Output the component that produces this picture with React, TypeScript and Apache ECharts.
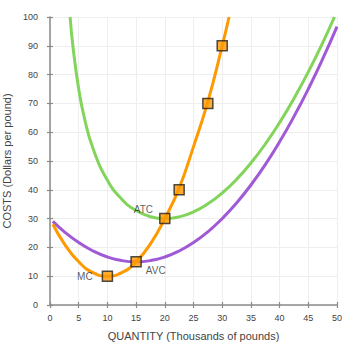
import React, { useEffect, useRef } from "react";
import * as echarts from "echarts";

// Cost curves (quantity in thousands of pounds, cost in dollars per pound)
const mcCurve: [number, number][] = [
  [0.5, 28.05], [2.5, 21.25], [5, 15], [7.5, 11.25], [10, 10], [12.5, 11.25],
  [15, 15], [17.5, 21.25], [20, 30], [22.5, 40.6], [25, 55], [27.5, 70.6],
  [30, 90], [31.2, 100],
];
const avcCurve: [number, number][] = [
  [0.5, 29.02], [2.5, 25.42], [5, 21.67], [7.5, 18.75], [10, 16.67], [12.5, 15.42],
  [15, 15], [17.5, 15.42], [20, 16.67], [22.5, 18.75], [25, 21.67], [27.5, 25.42],
  [30, 30], [32.5, 35.42], [35, 41.67], [37.5, 48.75], [40, 56.67], [42.5, 65.42],
  [45, 75], [47.5, 85.42], [50, 96.67],
];
const atcCurve: [number, number][] = [
  [3.5, 100], [4, 89.73], [5, 75], [6, 64.84], [7.5, 54.31], [10, 43.33],
  [12.5, 36.75], [15, 32.78], [17.5, 30.66], [20, 30], [22.5, 30.6], [25, 32.33],
  [27.5, 35.12], [30, 38.89], [32.5, 43.62], [35, 49.29], [37.5, 55.86], [40, 63.33],
  [42.5, 71.69], [45, 80.93], [47.5, 91.03], [49.55, 100],
];
// Marked points on the marginal cost curve
const mcPoints: [number, number][] = [
  [10, 10], [15, 15], [20, 30], [22.5, 40], [27.5, 70], [30, 90],
];
const pointLabels: Record<string, string> = { "10,10": "MC", "15,15": "AVC", "20,30": "ATC" };

const FONT = "'Liberation Sans', Arial, sans-serif";
const ORANGE = "#ff9900";
const GREEN = "#82d45a";
const PURPLE = "#a05ad6";

export default function App() {
  const ref = useRef<HTMLDivElement>(null);

  useEffect(() => {
    document.body.style.margin = "0";
    const chart = echarts.init(ref.current!, null, { renderer: "svg" });

    const labelPos: Record<string, any> = {
      MC: { position: "left", distance: 9 },
      AVC: { position: "right", distance: 4, offset: [0, 9] },
      ATC: { position: "left", distance: 6, offset: [0, -9] },
    };

    const axisCommon = {
      type: "value" as const,
      axisLine: { show: true, lineStyle: { color: "#8a8a8a", width: 1.5 } },
      axisTick: { show: true, length: 3, lineStyle: { color: "#8a8a8a", width: 1.2 } },
      axisLabel: { color: "#444", fontSize: 9, fontFamily: FONT },
      splitLine: { show: true, lineStyle: { color: "#eeeeee", width: 1 } },
      nameTextStyle: { color: "#444", fontSize: 11, fontFamily: FONT },
    };
    const innerTicks = {
      type: "value" as const,
      axisLine: { show: false },
      axisTick: { show: true, inside: true, length: 3, lineStyle: { color: "#8a8a8a", width: 1.2 } },
      axisLabel: { show: false },
      splitLine: { show: false },
    };

    chart.setOption({
      animation: false,
      backgroundColor: "#ffffff",
      grid: { left: 50, right: 23, top: 17, bottom: 43, containLabel: false, outerBoundsMode: "none" },
      xAxis: [
        {
          ...axisCommon,
          min: 0, max: 50, interval: 5,
          name: "QUANTITY (Thousands of pounds)",
          nameLocation: "middle",
          nameGap: 25,
          axisLabel: { ...axisCommon.axisLabel, margin: 8 },
        },
        { ...innerTicks, min: 0, max: 50, interval: 5, position: "bottom" },
      ],
      yAxis: [
        {
          ...axisCommon,
          min: 0, max: 100, interval: 10,
          name: "COSTS (Dollars per pound)",
          nameLocation: "middle",
          nameGap: 30,
          axisLabel: { ...axisCommon.axisLabel, margin: 12 },
        },
        { ...innerTicks, min: 0, max: 100, interval: 10, position: "left" },
      ],
      series: [
        {
          name: "ATC", type: "line", data: atcCurve, smooth: true, symbol: "none",
          lineStyle: { color: GREEN, width: 3 }, z: 2,
        },
        {
          name: "AVC", type: "line", data: avcCurve, smooth: true, symbol: "none",
          lineStyle: { color: PURPLE, width: 3 }, z: 2,
        },
        {
          name: "MC", type: "line", data: mcCurve, smooth: true, symbol: "none",
          lineStyle: { color: ORANGE, width: 3 }, z: 3,
        },
        {
          name: "MC points", type: "scatter", symbol: "rect", symbolSize: 10, z: 4,
          itemStyle: { color: ORANGE, borderColor: "#222", borderWidth: 1.5 },
          data: mcPoints.map((p) => {
            const text = pointLabels[p.join(",")];
            return text
              ? {
                  value: p,
                  label: {
                    show: true, formatter: text, color: "#333", fontSize: 10,
                    fontFamily: FONT, ...labelPos[text],
                  },
                }
              : { value: p };
          }),
        },
      ],
    });
    return () => chart.dispose();
  }, []);

  return <div ref={ref} style={{ width: 360, height: 348 }} />;
}
